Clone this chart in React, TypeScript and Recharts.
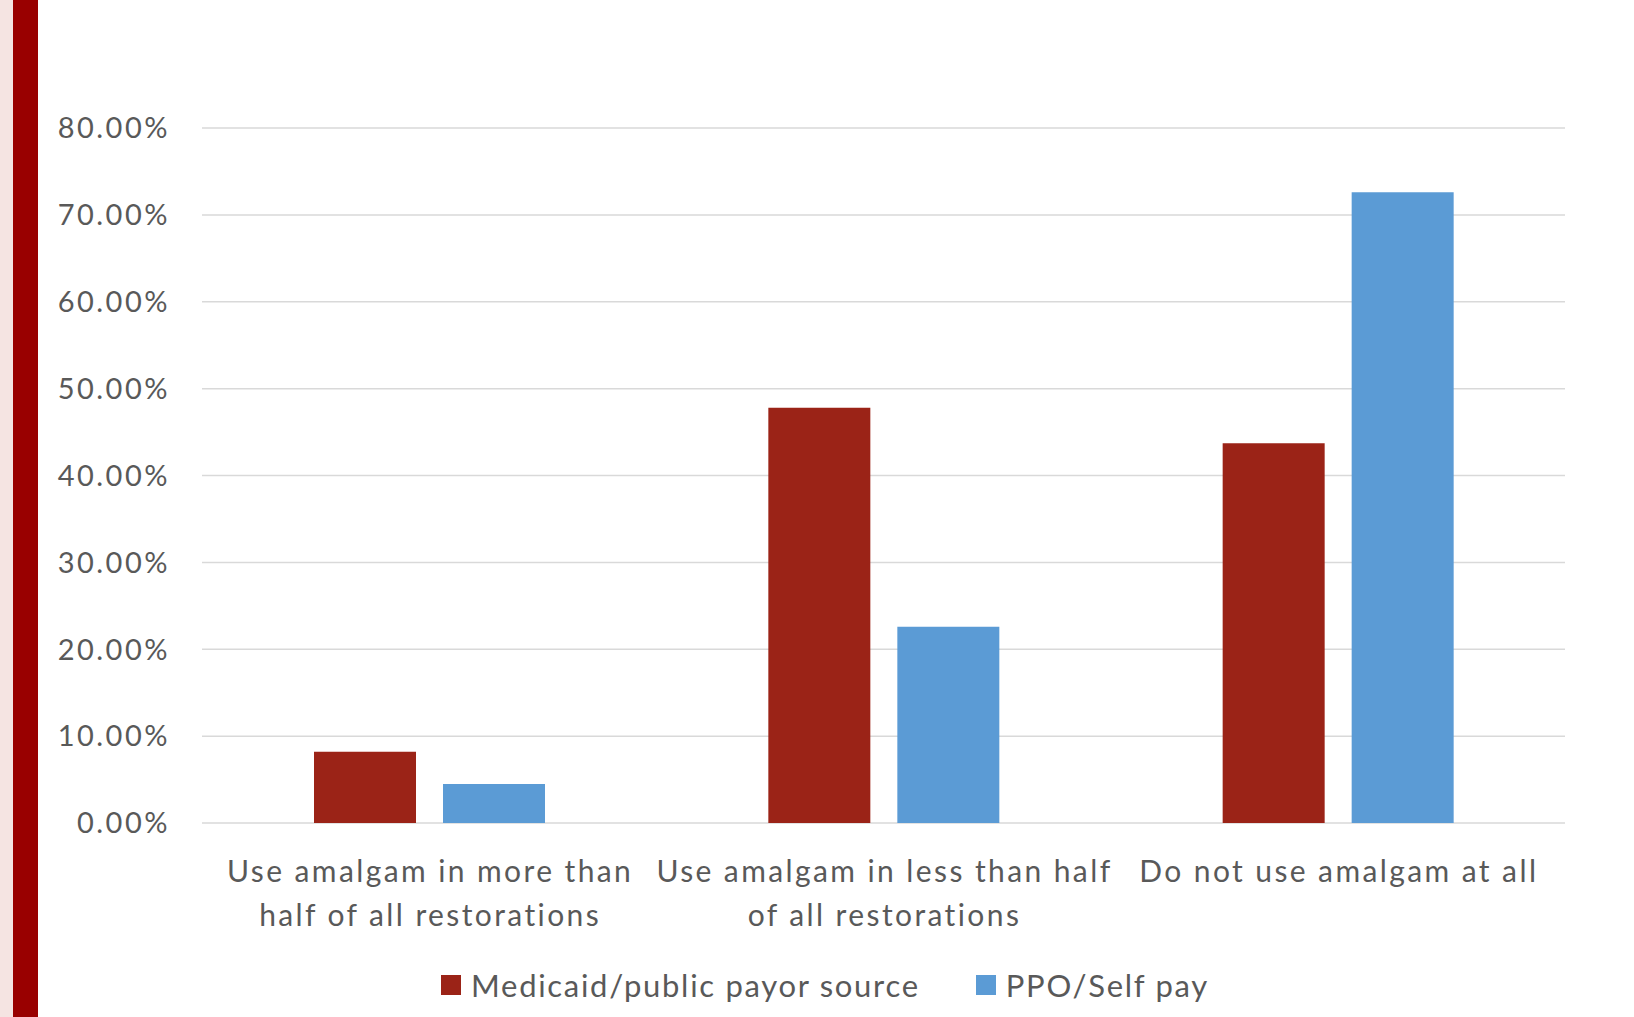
import React from "react";
import { BarChart, Bar, XAxis, YAxis, CartesianGrid, Legend } from "recharts";

const categoryLines = [
  ["Use amalgam in more than", "half of all restorations"],
  ["Use amalgam in less than half", "of all restorations"],
  ["Do not use amalgam at all"],
];
const categories = categoryLines.map((l) => l.join(" "));

const medicaid = [0.082, 0.478, 0.437];
const ppo = [0.045, 0.226, 0.726];

const yTicks = [0, 0.1, 0.2, 0.3, 0.4, 0.5, 0.6, 0.7, 0.8];

const seriesNames = ["Medicaid/public payor source", "PPO/Self pay"];
const seriesColors = ["#9B2317", "#5B9BD5"];

const data = categories.map((name, i) => ({
  name,
  medicaid: medicaid[i],
  ppo: ppo[i],
}));

const FONT = "Lato, 'Open Sans', sans-serif";
const TEXT_COLOR = "#595959";

function CategoryTick(props: any) {
  const { x, y, payload } = props;
  const lines = categoryLines[payload.index] ?? [String(payload.value)];
  return (
    <text
      x={x + 1}
      y={y}
      textAnchor="middle"
      fill={TEXT_COLOR}
      fontSize={30}
      fontFamily={FONT}
      style={{ letterSpacing: 2.4 }}
    >
      {lines.map((line, i) => (
        <tspan key={i} x={x + 1} dy={i === 0 ? 59 : 44}>
          {line}
        </tspan>
      ))}
    </text>
  );
}

function LegendContent() {
  return (
    <div
      style={{
        display: "flex",
        justifyContent: "center",
        alignItems: "center",
        height: 50,
        gap: 56,
        paddingLeft: 16,
        fontFamily: FONT,
        fontSize: 31,
        letterSpacing: 1.7,
        color: TEXT_COLOR,
      }}
    >
      {seriesNames.map((name, i) => (
        <div key={name} style={{ display: "flex", alignItems: "center", gap: 10 }}>
          <span style={{ width: 20, height: 20, background: seriesColors[i], display: "inline-block" }} />
          <span>{name}</span>
        </div>
      ))}
    </div>
  );
}

export default function App() {
  return (
    <div
      style={{
        position: "fixed",
        left: 0,
        top: 0,
        width: 1634,
        height: 1017,
        background: "#ffffff",
        overflow: "hidden",
      }}
    >
      {/* slide edge decoration */}
      <div style={{ position: "absolute", left: 0, top: 0, width: 13, height: 1017, background: "#F5E4E2" }} />
      <div style={{ position: "absolute", left: 13, top: 0, width: 25, height: 1017, background: "#990000" }} />

      <div style={{ position: "absolute", left: 0, top: 0 }}>
        <BarChart
          width={1634}
          height={1017}
          data={data}
          margin={{ top: 128, right: 69, bottom: 44, left: 40 }}
          barSize={102}
          barGap={27}
        >
          <CartesianGrid vertical={false} stroke="#D9D9D9" strokeWidth={1.5} />
          <XAxis
            dataKey="name"
            axisLine={false}
            tickLine={false}
            tickSize={0}
            tickMargin={0}
            height={100}
            interval={0}
            tick={<CategoryTick />}
          />
          <YAxis
            width={162}
            domain={[0, 0.8]}
            ticks={yTicks}
            axisLine={false}
            tickLine={false}
            tickSize={0}
            tickMargin={32}
            tickFormatter={(v: number) => (v * 100).toFixed(2) + "%"}
            tick={{ fill: TEXT_COLOR, fontSize: 29, fontFamily: FONT, style: { letterSpacing: 2.5 } }}
          />
          <Legend
            verticalAlign="bottom"
            content={<LegendContent />}
            wrapperStyle={{ left: 0, width: 1634, bottom: 7, height: 50 }}
          />
          <Bar dataKey="medicaid" name={seriesNames[0]} fill={seriesColors[0]} isAnimationActive={false} />
          <Bar dataKey="ppo" name={seriesNames[1]} fill={seriesColors[1]} isAnimationActive={false} />
        </BarChart>
      </div>
    </div>
  );
}
